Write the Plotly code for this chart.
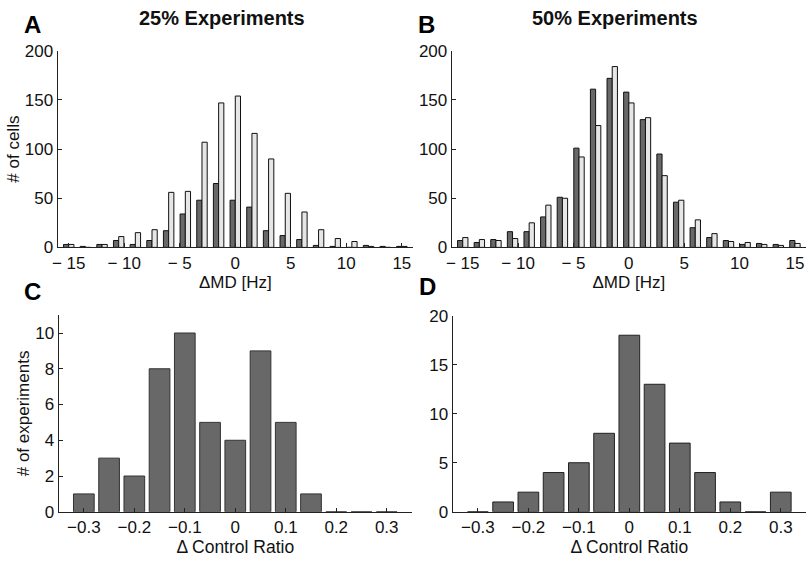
import plotly.graph_objects as go

# ---- data ----
md_bins = [-15, -13.5, -12, -10.5, -9, -7.5, -6, -4.5, -3, -1.5, 0, 1.5, 3, 4.5, 6, 7.5, 9, 10.5, 12, 13.5, 15]
a_dark = [3, 1, 3, 7, 3, 7, 17, 34, 48, 65, 48, 41, 17, 12, 8, 2, 1, 0, 2, 1, 1]
a_light = [3, 0, 3, 11, 15, 18, 56, 57, 107, 147, 154, 116, 90, 55, 36, 18, 9, 6, 1, 0, 1]
b_dark = [7, 5, 8, 16, 16, 31, 51, 101, 161, 172, 158, 130, 95, 46, 20, 10, 7, 3, 4, 3, 7]
b_light = [10, 8, 7, 9, 25, 43, 50, 92, 124, 184, 147, 132, 73, 48, 28, 14, 6, 5, 3, 2, 4]

cr_bins = [-0.3, -0.25, -0.2, -0.15, -0.1, -0.05, 0, 0.05, 0.1, 0.15, 0.2, 0.25, 0.3]
c_counts = [1, 3, 2, 8, 10, 5, 4, 9, 5, 1, 0, 0, 0]
d_counts = [0, 1, 2, 4, 5, 8, 18, 13, 7, 4, 1, 0, 2]

md_ticks = [-15, -10, -5, 0, 5, 10, 15]
md_ticktext = ["\u2212 15", "\u2212 10", "\u2212 5", "0", "5", "10", "15"]
cr_ticks = [-0.3, -0.2, -0.1, 0, 0.1, 0.2, 0.3]
cr_ticktext = ["\u22120.3", "\u22120.2", "\u22120.1", "0", "0.1", "0.2", "0.3"]

DARK = "#686868"
LIGHT = "#e6e6e6"
EDGE = "#111111"
FONT = "Liberation Sans, Arial, sans-serif"
TXT = "#111111"

W, H = 807, 564


def px_x(a, b):
    return [a / W, b / W]


def px_y(top, bottom):
    return [(H - bottom) / H, (H - top) / H]


fig = go.Figure()
bw = 0.47
fig.add_trace(go.Bar(x=md_bins, y=a_dark, width=bw, offset=-bw, marker=dict(color=DARK, line=dict(color=EDGE, width=1)), xaxis="x", yaxis="y", showlegend=False))
fig.add_trace(go.Bar(x=md_bins, y=a_light, width=bw, offset=0, marker=dict(color=LIGHT, line=dict(color=EDGE, width=1)), xaxis="x", yaxis="y", showlegend=False))
fig.add_trace(go.Bar(x=md_bins, y=b_dark, width=bw, offset=-bw, marker=dict(color=DARK, line=dict(color=EDGE, width=1)), xaxis="x2", yaxis="y2", showlegend=False))
fig.add_trace(go.Bar(x=md_bins, y=b_light, width=bw, offset=0, marker=dict(color=LIGHT, line=dict(color=EDGE, width=1)), xaxis="x2", yaxis="y2", showlegend=False))
fig.add_trace(go.Bar(x=cr_bins, y=c_counts, width=0.041, marker=dict(color=DARK, line=dict(color="#333333", width=1)), xaxis="x3", yaxis="y3", showlegend=False))
fig.add_trace(go.Bar(x=cr_bins, y=d_counts, width=0.041, marker=dict(color=DARK, line=dict(color="#222222", width=1)), xaxis="x4", yaxis="y4", showlegend=False))

axis_common = dict(
    showgrid=False, zeroline=False, showline=True, linecolor="#222222", linewidth=1,
    ticks="inside", ticklen=4, tickcolor="#222222", tickfont=dict(family=FONT, size=17, color=TXT),
    fixedrange=True,
)

md_title = dict(text="\u0394MD [Hz]", font=dict(family=FONT, size=17, color=TXT), standoff=1)
cr_title = dict(text="\u0394 Control Ratio", font=dict(family=FONT, size=17.5, color=TXT), standoff=1)

fig.update_layout(
    width=W, height=H, autosize=False,
    margin=dict(l=0, r=0, t=0, b=0),
    paper_bgcolor="white", plot_bgcolor="white",
    barmode="overlay",
    font=dict(family=FONT, color=TXT),
    xaxis=dict(axis_common, domain=px_x(52, 410), range=[-16, 16], tickvals=md_ticks, ticktext=md_ticktext, title=md_title, anchor="y"),
    yaxis=dict(axis_common, domain=px_y(43.3, 246.7), range=[0, 200], tickvals=[0, 50, 100, 150, 200],
               title=dict(text="# of cells", font=dict(family=FONT, size=17, color=TXT), standoff=0), anchor="x"),
    xaxis2=dict(axis_common, domain=px_x(449, 806), range=[-16, 16], tickvals=md_ticks, ticktext=md_ticktext, title=md_title, anchor="y2"),
    yaxis2=dict(axis_common, domain=px_y(43.3, 246.7), range=[0, 200], tickvals=[0, 50, 100, 150, 200], anchor="x2"),
    xaxis3=dict(axis_common, domain=px_x(53, 409), range=[-0.35, 0.35], tickvals=cr_ticks, ticktext=cr_ticktext, title=cr_title, anchor="y3"),
    yaxis3=dict(axis_common, domain=px_y(316.8, 520.3), range=[0, 11], tickvals=[0, 2, 4, 6, 8, 10],
                title=dict(text="# of experiments", font=dict(family=FONT, size=17, color=TXT), standoff=1), anchor="x3"),
    xaxis4=dict(axis_common, domain=px_x(450, 806), range=[-0.35, 0.35], tickvals=cr_ticks, ticktext=cr_ticktext, title=cr_title, anchor="y4"),
    yaxis4=dict(axis_common, domain=px_y(317.3, 520.3), range=[0, 20], tickvals=[0, 5, 10, 15, 20], anchor="x4"),
)

ann = []
for txt, x, y in [("25% Experiments", 218, 9), ("50% Experiments", 614, 9)]:
    ann.append(dict(text="<b>%s</b>" % txt, x=x / W, y=(H - y) / H, xref="paper", yref="paper",
                    xanchor="center", yanchor="middle", showarrow=False, font=dict(family=FONT, size=20, color=TXT)))
for txt, x, y in [("A", 27, 16), ("B", 424, 16), ("C", 27, 292), ("D", 425, 287)]:
    ann.append(dict(text="<b>%s</b>" % txt, x=x / W, y=(H - y) / H, xref="paper", yref="paper",
                    xanchor="center", yanchor="middle", showarrow=False, font=dict(family=FONT, size=24, color="#000000")))
fig.update_layout(annotations=ann)

fig.write_html(
    "out.html",
    config={"responsive": False, "displayModeBar": False},
    post_script="document.body.style.margin='0';document.body.style.padding='0';document.body.style.overflow='hidden';",
)
